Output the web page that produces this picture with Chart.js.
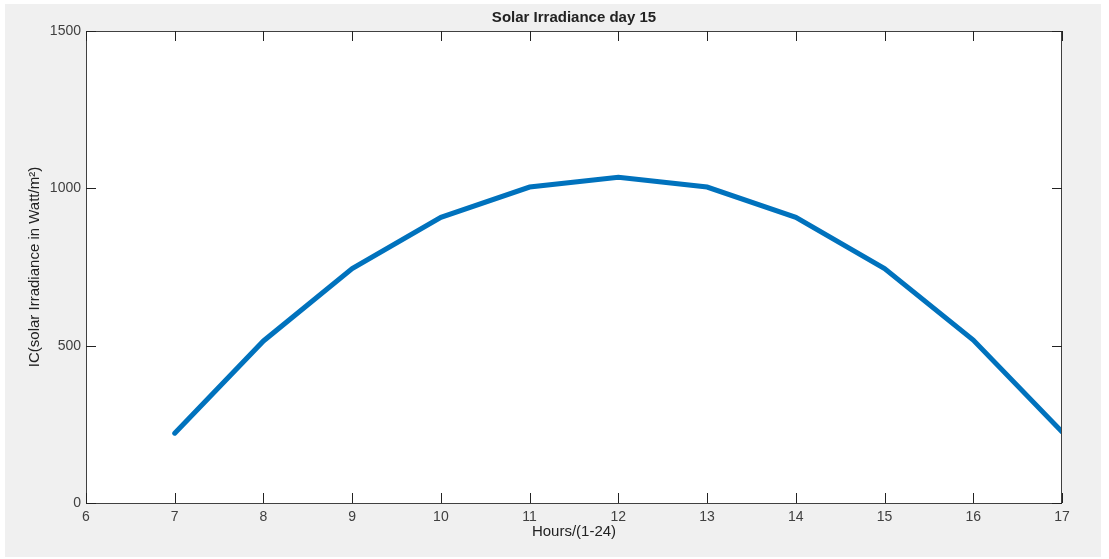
<!DOCTYPE html>
<html>
<head>
<meta charset="utf-8">
<script src="https://cdn.jsdelivr.net/npm/chart.js@4.4.1/dist/chart.umd.min.js"></script>
<style>
    html, body { margin: 0; padding: 0; background: #fff; }
    #box { position: relative; width: 1109px; height: 559px; }
</style>
</head>
<body>
<div id="box"><canvas id="solarChart" width="1109" height="559"></canvas></div>
<script>
// data
const hours = [7, 8, 9, 10, 11, 12, 13, 14, 15, 16, 17];
const irradiance = [222, 515, 745, 908, 1004, 1035, 1004, 908, 745, 518, 226];
const yTicks = [0, 500, 1000, 1500];

const axisColor = "#404040";
const fontFamily = "'Liberation Sans', Arial, sans-serif";

// grey figure background, white axes box, frame, inward ticks and title
const matlabLook = {
    id: "matlabLook",
    beforeDraw(chart) {
        const { ctx, chartArea: a } = chart;
        ctx.save();
        ctx.fillStyle = "#f0f0f0";
        ctx.fillRect(5, 4, 1096, 553);
        ctx.fillStyle = "#ffffff";
        ctx.fillRect(a.left, a.top, a.right - a.left, a.bottom - a.top);
        ctx.restore();
    },
    afterDraw(chart) {
        const { ctx, chartArea: a, scales } = chart;
        ctx.save();
        ctx.strokeStyle = axisColor;
        ctx.lineWidth = 1;
        ctx.strokeRect(a.left + 0.5, a.top + 0.5, a.right - a.left - 1, a.bottom - a.top);

        ctx.strokeStyle = "#222";
        ctx.beginPath();
        scales.x.ticks.forEach((t) => {
            const px = Math.round(scales.x.getPixelForValue(t.value)) + 0.5;
            ctx.moveTo(px, a.bottom);
            ctx.lineTo(px, a.bottom - 10);
            ctx.moveTo(px, a.top);
            ctx.lineTo(px, a.top + 10);
        });
        scales.y.ticks.forEach((t) => {
            const py = Math.round(scales.y.getPixelForValue(t.value)) + 0.5;
            ctx.moveTo(a.left, py);
            ctx.lineTo(a.left + 10, py);
            ctx.moveTo(a.right, py);
            ctx.lineTo(a.right - 10, py);
        });
        ctx.stroke();

        ctx.fillStyle = "#222";
        ctx.font = "bold 15px " + fontFamily;
        ctx.textAlign = "center";
        ctx.textBaseline = "middle";
        ctx.fillText("Solar Irradiance day 15", (a.left + a.right) / 2, 18);
        ctx.restore();
    },
};

new Chart(document.getElementById("solarChart"), {
    type: "line",
    data: {
        datasets: [
            {
                data: hours.map((h, i) => ({ x: h, y: irradiance[i] })),
                borderColor: "#0072BD",
                borderWidth: 5,
                pointRadius: 0,
                tension: 0,
                borderCapStyle: "round",
            },
        ],
    },
    options: {
        responsive: false,
        animation: false,
        layout: {
            padding: { top: 31, right: 47, left: 0, bottom: 0 },
        },
        plugins: {
            legend: { display: false },
            tooltip: { enabled: false },
        },
        scales: {
            x: {
                type: "linear",
                min: 6,
                max: 17,
                border: { display: false },
                grid: { display: false, drawTicks: false },
                ticks: {
                    stepSize: 1,
                    padding: 6,
                    color: axisColor,
                    font: { family: fontFamily, size: 14 },
                },
                title: {
                    display: true,
                    text: "Hours/(1-24)",
                    color: "#222",
                    font: { family: fontFamily, size: 15 },
                    padding: { bottom: 18 },
                },
                afterFit(scale) {
                    scale.height = 56;
                },
            },
            y: {
                min: 0,
                max: 1500,
                border: { display: false },
                grid: { display: false, drawTicks: false },
                afterBuildTicks(scale) {
                    scale.ticks = yTicks.map((v) => ({ value: v }));
                },
                ticks: {
                    padding: 5,
                    color: axisColor,
                    font: { family: fontFamily, size: 14 },
                    callback: (v) => String(v),
                },
                title: {
                    display: true,
                    text: "IC(solar Irradiance in Watt/m²)",
                    color: "#222",
                    font: { family: fontFamily, size: 15 },
                    padding: { top: 26 },
                },
                afterFit(scale) {
                    scale.width = 86;
                },
            },
        },
    },
    plugins: [matlabLook],
});
</script>
</body>
</html>
